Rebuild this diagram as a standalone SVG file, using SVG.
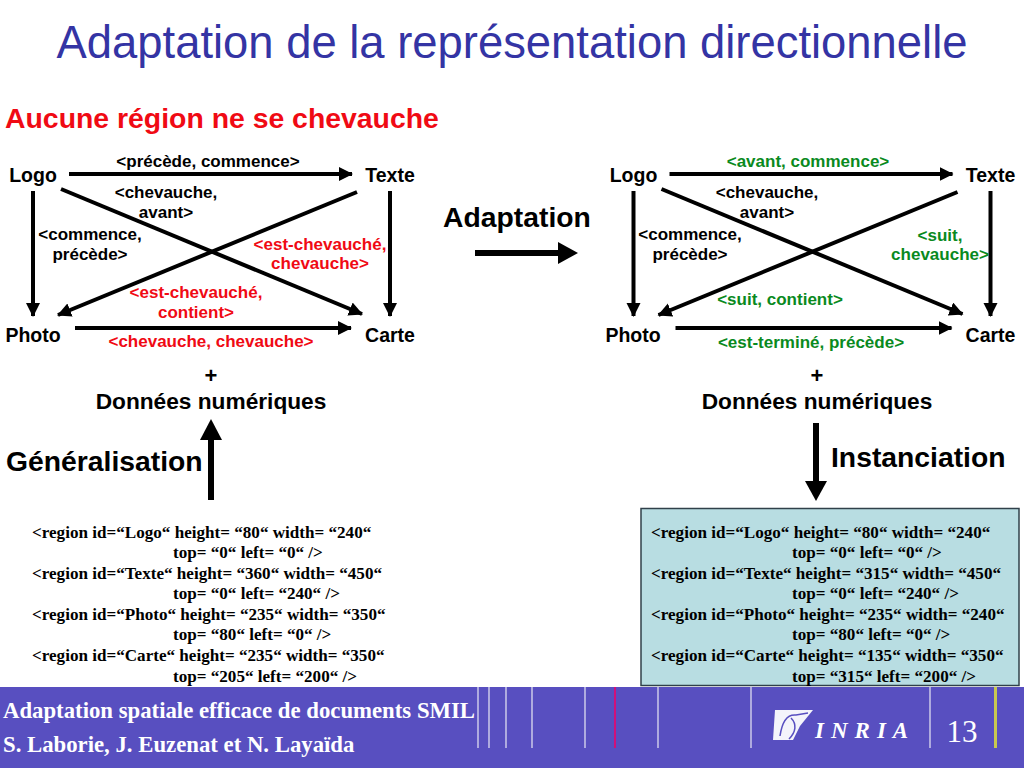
<svg xmlns="http://www.w3.org/2000/svg" xmlns:xlink="http://www.w3.org/1999/xlink" width="1024" height="768" viewBox="0 0 1024 768">
<style>
text{font-family:"Liberation Sans",Arial,sans-serif;font-weight:bold;fill:#000}
.n{font-size:19.500px;text-anchor:middle}
.l{font-size:17px;text-anchor:middle}
.r{fill:#f00a14}
.g{fill:#0a8a1e}
.h{font-size:28.300px}
.c{font-family:"Liberation Serif","Times New Roman",serif;font-size:17.100px}
.f{font-family:"Liberation Serif","Times New Roman",serif;font-size:22.750px;fill:#fff}
.a{stroke:#000;stroke-width:4;fill:none;marker-end:url(#ah)}
.b{stroke:#000;stroke-width:6;fill:none}
.v{stroke:#e8e8f4;stroke-width:1.200}
</style>
<defs>
<marker id="ah" markerUnits="userSpaceOnUse" markerWidth="16" markerHeight="16" refX="13" refY="7" orient="auto"><path d="M0 0L14 7L0 14Z" fill="#000"/></marker>
<g id="cross">
<path class="a" d="M69 174H352"/>
<path class="a" d="M33 191V316"/>
<path class="a" d="M61 189L362 314"/>
<path class="a" d="M357 192L58 315"/>
<path class="a" d="M390 191V316"/>
<path class="a" d="M75 328H351"/>
</g>
</defs>
<rect width="1024" height="768" fill="#fff"/>
<text x="512" y="58" text-anchor="middle" style="font-weight:normal;font-size:45.400px;fill:#3434a4">Adaptation de la représentation directionnelle</text>
<text x="5" y="128" style="font-size:28.400px;fill:#f00a14">Aucune région ne se chevauche</text>

<g id="connectors">
<use xlink:href="#cross"/>
<use xlink:href="#cross" x="600.500"/>
<path class="b" d="M475 253H560"/><path d="M558 242L578 253L558 264Z"/>
<path class="b" d="M211 500V438"/><path d="M200 440L211 419L222 440Z"/>
<path class="b" d="M816 423V483"/><path d="M805 481L816 501L827 481Z"/>
</g>

<g id="node-logo-l"><text class="n" x="33" y="181.500">Logo</text></g>
<g id="node-texte-l"><text class="n" x="390" y="181.500">Texte</text></g>
<g id="node-photo-l"><text class="n" x="33" y="341.500">Photo</text></g>
<g id="node-carte-l"><text class="n" x="390" y="341.500">Carte</text></g>
<g id="node-logo-r"><text class="n" x="633.500" y="181.500">Logo</text></g>
<g id="node-texte-r"><text class="n" x="990.500" y="181.500">Texte</text></g>
<g id="node-photo-r"><text class="n" x="633" y="341.500">Photo</text></g>
<g id="node-carte-r"><text class="n" x="990.500" y="341.500">Carte</text></g>

<g id="labels-left">
<text class="l" x="208" y="166.500">&lt;précède, commence&gt;</text>
<text class="l" x="166" y="197.500">&lt;chevauche,</text>
<text class="l" x="166" y="217.500">avant&gt;</text>
<text class="l" x="90" y="239.500">&lt;commence,</text>
<text class="l" x="90" y="259.500">précède&gt;</text>
<text class="l r" x="320" y="249.500">&lt;est-chevauché,</text>
<text class="l r" x="320" y="268.500">chevauche&gt;</text>
<text class="l r" x="196" y="297.500">&lt;est-chevauché,</text>
<text class="l r" x="196" y="317.500">contient&gt;</text>
<text class="l r" x="211" y="347">&lt;chevauche, chevauche&gt;</text>
</g>
<g id="labels-right">
<text class="l g" x="808" y="166.500">&lt;avant, commence&gt;</text>
<text class="l" x="767" y="197.500">&lt;chevauche,</text>
<text class="l" x="767" y="217.500">avant&gt;</text>
<text class="l" x="690" y="239.500">&lt;commence,</text>
<text class="l" x="690" y="259.500">précède&gt;</text>
<text class="l g" x="940" y="240.500">&lt;suit,</text>
<text class="l g" x="940" y="259.500">chevauche&gt;</text>
<text class="l g" x="780" y="304.500">&lt;suit, contient&gt;</text>
<text class="l g" x="811" y="347.500">&lt;est-terminé, précède&gt;</text>
</g>

<g id="adaptation"><text class="h" x="517" y="226.500" text-anchor="middle">Adaptation</text></g>
<g id="donnees-l"><text x="211" y="383" text-anchor="middle" style="font-size:22px">+</text><text x="211" y="409" text-anchor="middle" style="font-size:22.700px">Données numériques</text></g>
<g id="donnees-r"><text x="817" y="383" text-anchor="middle" style="font-size:22px">+</text><text x="817" y="409" text-anchor="middle" style="font-size:22.700px">Données numériques</text></g>
<g id="generalisation"><text class="h" x="6" y="470.500">Généralisation</text></g>
<g id="instanciation"><text class="h" x="831" y="466.500">Instanciation</text></g>

<g id="code-left">
<text class="c" x="32" y="537.500">&lt;region id=“Logo“ height= “80“ width= “240“</text>
<text class="c" x="173" y="557.500">top= “0“ left= “0“ /&gt;</text>
<text class="c" x="32" y="578.500">&lt;region id=“Texte“ height= “360“ width= “450“</text>
<text class="c" x="173" y="598.500">top= “0“ left= “240“ /&gt;</text>
<text class="c" x="32" y="619.500">&lt;region id=“Photo“ height= “235“ width= “350“</text>
<text class="c" x="173" y="639.500">top= “80“ left= “0“ /&gt;</text>
<text class="c" x="32" y="660.500">&lt;region id=“Carte“ height= “235“ width= “350“</text>
<text class="c" x="173" y="681.500">top= “205“ left= “200“ /&gt;</text>
</g>
<g id="code-right">
<rect x="641" y="508.500" width="378" height="177" fill="#b8dde2" stroke="#30404a" stroke-width="1.500"/>
<text class="c" x="651" y="537.500">&lt;region id=“Logo“ height= “80“ width= “240“</text>
<text class="c" x="792" y="557.500">top= “0“ left= “0“ /&gt;</text>
<text class="c" x="651" y="578.500">&lt;region id=“Texte“ height= “315“ width= “450“</text>
<text class="c" x="792" y="598.500">top= “0“ left= “240“ /&gt;</text>
<text class="c" x="651" y="619.500">&lt;region id=“Photo“ height= “235“ width= “240“</text>
<text class="c" x="792" y="639.500">top= “80“ left= “0“ /&gt;</text>
<text class="c" x="651" y="660.500">&lt;region id=“Carte“ height= “135“ width= “350“</text>
<text class="c" x="792" y="681.500">top= “315“ left= “200“ /&gt;</text>
</g>

<g id="footer">
<rect x="0" y="687" width="1024" height="81" fill="#584fc0"/>
<path class="v" d="M478 687V748M489 687V748M506 687V748M532 687V748M585 687V748M658 687V748M751 687V748M930 687V748"/>
<path d="M615 687V748" stroke="#d0107a" stroke-width="2"/>
<path d="M995.500 687V748" stroke="#c8c850" stroke-width="3"/>
<text class="f" x="3" y="718">Adaptation spatiale efficace de documents SMIL</text>
<text class="f" x="3" y="752">S. Laborie, J. Euzenat et N. Layaïda</text>
<path d="M775 710H813L800 726L793 740H773Z" fill="#f4f4fb"/>
<path d="M780 736C782 722 787 714 796 715L808 713M789 739C796 732 797 724 791 718" fill="none" stroke="#584fc0" stroke-width="1.500"/>
<text x="815" y="738" style="font-family:'Liberation Serif',serif;font-style:italic;font-weight:bold;font-size:23px;letter-spacing:7px;fill:#fff">INRIA</text>
<text x="962" y="742" text-anchor="middle" style="font-family:'Liberation Serif',serif;font-weight:normal;font-size:31px;fill:#fff">13</text>
</g>
</svg>
